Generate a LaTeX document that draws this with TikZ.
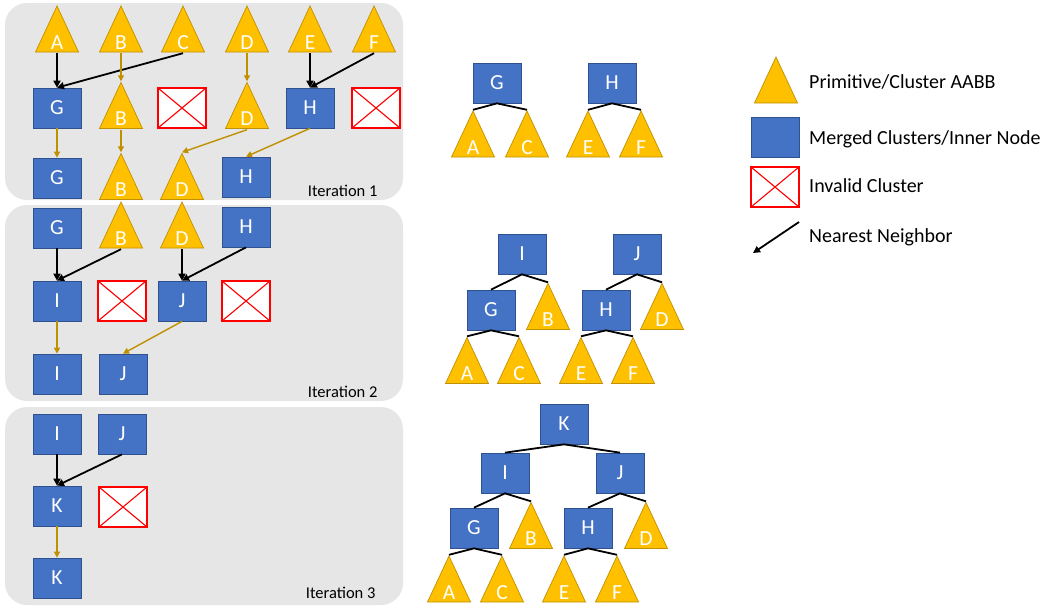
\documentclass[tikz,border=0pt]{standalone}
\usepackage{fontspec}
\setmainfont{Carlito}
\usepackage{tikz}
\usetikzlibrary{
    arrows.meta,
    positioning,
    calc
}

\definecolor{triFill}{HTML}{FFC000}
\definecolor{triLine}{HTML}{BF9000}
\definecolor{keepGold}{HTML}{BF9000}
\definecolor{innerFill}{HTML}{4472C4}
\definecolor{innerLine}{HTML}{2F528F}
\definecolor{panelGray}{HTML}{E7E6E6}
\definecolor{badRed}{HTML}{FF0000}

\newcommand{\lblfont}{\fontsize{21.5}{22}\selectfont}
\newcommand{\legfont}{\fontsize{20}{21}\selectfont}
\newcommand{\iterfont}{\fontsize{16.5}{17}\selectfont}

\begin{document}
\begin{tikzpicture}[
            x=1pt, y=-1pt,
            panel/.style={fill=panelGray, rounded corners=22pt},
            tri/.style={minimum width=45pt, minimum height=48pt, inner sep=0pt,
                text=white, font=\lblfont, text height=40pt, text depth=0pt,
                path picture={\filldraw[fill=triFill, draw=triLine, line width=0.7pt]
                    ([shift={(1pt,1pt)}]path picture bounding box.south west) --
                    ([shift={(0pt,-1pt)}]path picture bounding box.north) --
                    ([shift={(-1pt,1pt)}]path picture bounding box.south east) -- cycle;}},
            inner/.style={fill=innerFill, draw=innerLine, line width=0.7pt, minimum width=48pt,
                minimum height=40pt, inner sep=0pt, text=white, font=\lblfont},
            invalid/.style={fill=white, draw=badRed, line width=2pt, minimum width=48pt,
                minimum height=40pt, inner sep=0pt,
                path picture={\draw[badRed, line width=1.1pt]
                    (path picture bounding box.south west) -- (path picture bounding box.north east)
                    (path picture bounding box.north west) -- (path picture bounding box.south east);}},
            nn/.style={-{Triangle[length=7pt, width=7pt]}, line width=1.8pt, black},
            keep/.style={-{Triangle[length=6pt, width=6pt]}, line width=1.4pt, keepGold},
            child/.style={line width=1.8pt, black},
            iter/.style={anchor=east, font=\iterfont},
            legtext/.style={anchor=west, inner sep=0pt, font=\legfont, text height=14pt, text depth=4pt},
        ]
            \useasboundingbox (0,0) rectangle (1054,608);

            % ====== Panels ======
            \fill[panel] (5,3) rectangle (403,200);
            \fill[panel] (5,205) rectangle (403,401);
            \fill[panel] (5,407) rectangle (403,605);

            % ====== Iteration 1 ======
            \node[tri] (a1) at (57,29) {A};
            \node[tri] (b1) at (121,29) {B};
            \node[tri] (c1) at (183,29) {C};
            \node[tri] (d1) at (247,29) {D};
            \node[tri] (e1) at (310,29) {E};
            \node[tri] (f1) at (374,29) {F};

            \node[inner] (g1) at (57,108) {G};
            \node[tri] (b2) at (121,105.5) {B};
            \node[invalid] (x1) at (182,108) {};
            \node[tri] (d2) at (247,105.5) {D};
            \node[inner] (h1) at (310,108) {H};
            \node[invalid] (x2) at (376,108) {};

            \node[inner] (g2) at (57,178) {G};
            \node[tri] (b3) at (121,176.5) {B};
            \node[tri] (d3) at (182,176.5) {D};
            \node[inner] (h2) at (246,177) {H};

            \node[iter] (it1) at (381,191) {Iteration 1};

            \draw[nn] (a1.south) -- (g1.north);
            \draw[nn] (c1.south) -- (g1.north);
            \draw[nn] (e1.south) -- (h1.north);
            \draw[nn] (f1.south) -- (h1.north);
            \draw[keep] (b1.south) -- (b2.north);
            \draw[keep] (d1.south) -- (d2.north);

            \draw[keep] (g1.south) -- (g2.north);
            \draw[keep] (b2.south) -- (b3.north);
            \draw[keep] (d2.south) -- (d3.north);
            \draw[keep] (h1.south) -- (h2.north);

            % ====== Iteration 2 ======
            \node[inner] (g3) at (57,228) {G};
            \node[tri] (b4) at (121,225) {B};
            \node[tri] (d4) at (182,225) {D};
            \node[inner] (h3) at (246,227) {H};

            \node[inner] (i1) at (57,301) {I};
            \node[invalid] (x3) at (122,301) {};
            \node[inner] (j1) at (182,301) {J};
            \node[invalid] (x4) at (246,301) {};

            \node[inner] (i2) at (57,374) {I};
            \node[inner] (j2) at (123,374) {J};

            \node[iter] (it2) at (381,392) {Iteration 2};

            \draw[nn] (g3.south) -- (i1.north);
            \draw[nn] (b4.south) -- (i1.north);
            \draw[nn] (d4.south) -- (j1.north);
            \draw[nn] (h3.south) -- (j1.north);
            \draw[keep] (i1.south) -- (i2.north);
            \draw[keep] (j1.south) -- (j2.north);

            % ====== Iteration 3 ======
            \node[inner] (i3) at (57,434) {I};
            \node[inner] (j3) at (122,434) {J};

            \node[inner] (k1) at (57,506) {K};
            \node[invalid] (x5) at (123,507) {};

            \node[inner] (k2) at (57,578) {K};

            \node[iter] (it3) at (379,593) {Iteration 3};

            \draw[nn] (i3.south) -- (k1.north);
            \draw[nn] (j3.south) -- (k1.north);
            \draw[keep] (k1.south) -- (k2.north);

            % ====== Trees after iteration 1 ======
            \node[inner] (tg1) at (497,83) {G};
            \node[tri] (ta1) at (473,134) {A};
            \node[tri] (tc1) at (527,134) {C};
            \node[inner] (th1) at (612,83) {H};
            \node[tri] (te1) at (588,134) {E};
            \node[tri] (tf1) at (641,134) {F};

            \draw[child] (ta1.north) -- (tg1.south) -- (tc1.north);
            \draw[child] (te1.north) -- (th1.south) -- (tf1.north);

            % ====== Trees after iteration 2 ======
            \node[inner] (ti2) at (522,254) {I};
            \node[inner] (tg2) at (491,310) {G};
            \node[tri] (tb2) at (548,306.5) {B};
            \node[tri] (ta2) at (467,360.5) {A};
            \node[tri] (tc2) at (519,360.5) {C};

            \node[inner] (tj2) at (637,254) {J};
            \node[inner] (th2) at (606,310) {H};
            \node[tri] (td2) at (662,306.5) {D};
            \node[tri] (te2) at (581,360.5) {E};
            \node[tri] (tf2) at (633,360.5) {F};

            \draw[child] (tg2.north) -- (ti2.south) -- (tb2.north);
            \draw[child] (ta2.north) -- (tg2.south) -- (tc2.north);
            \draw[child] (th2.north) -- (tj2.south) -- (td2.north);
            \draw[child] (te2.north) -- (th2.south) -- (tf2.north);

            % ====== Tree after iteration 3 ======
            \node[inner] (tk3) at (564,424) {K};
            \node[inner] (ti3) at (505,473) {I};
            \node[inner] (tj3) at (620,473) {J};
            \node[inner] (tg3) at (474,528) {G};
            \node[tri] (tb3) at (531,525.5) {B};
            \node[inner] (th3) at (588,528) {H};
            \node[tri] (td3) at (646,525.5) {D};
            \node[tri] (ta3) at (449,579) {A};
            \node[tri] (tc3) at (502,579) {C};
            \node[tri] (te3) at (564,579) {E};
            \node[tri] (tf3) at (617,579) {F};

            \draw[child] (ti3.north) -- (tk3.south) -- (tj3.north);
            \draw[child] (tg3.north) -- (ti3.south) -- (tb3.north);
            \draw[child] (th3.north) -- (tj3.south) -- (td3.north);
            \draw[child] (ta3.north) -- (tg3.south) -- (tc3.north);
            \draw[child] (te3.north) -- (th3.south) -- (tf3.north);

            % ====== Legend ======
            \node[tri] (lgtri) at (776,80) {};
            \node[inner] (lginner) at (775,137) {};
            \node[invalid] (lginvalid) at (775,187) {};
            \coordinate (lgfrom) at (799,222);
            \coordinate (lgto) at (753,253);
            \draw[nn] (lgfrom) -- (lgto);

            \node[legtext] (lgt1) at (809,83) {Primitive/Cluster AABB};
            \node[legtext] (lgt2) at (809,139) {Merged Clusters/Inner Node};
            \node[legtext] (lgt3) at (809,187) {Invalid Cluster};
            \node[legtext] (lgt4) at (809,237) {Nearest Neighbor};
        \end{tikzpicture}
\end{document}
